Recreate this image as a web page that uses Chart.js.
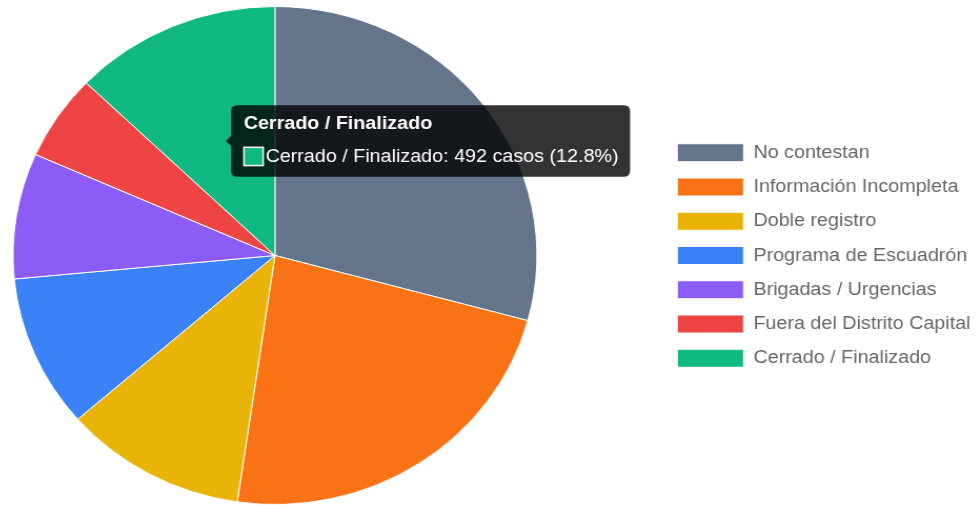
<!DOCTYPE html>
<html>
<head>
<meta charset="utf-8">
<script src="https://cdn.jsdelivr.net/npm/chart.js@4.4.0/dist/chart.umd.min.js"></script>
<style>
  html, body { margin: 0; padding: 0; background: #fff; overflow: hidden; width: 977px; height: 505px; }
  #pieChart { display: block; margin-left: -111px; }
</style>
</head>
<body>
<canvas id="pieChart" width="1038" height="505" style="width:1092px;height:505px"></canvas>
<script>
var labels = ["No contestan", "Información Incompleta", "Doble registro", "Programa de Escuadrón",
              "Brigadas / Urgencias", "Fuera del Distrito Capital", "Cerrado / Finalizado"];
var casos = [1122, 887, 433, 381, 313, 213, 492];
var colores = ["#64748b", "#f97316", "#eab308", "#3b82f6", "#8b5cf6", "#ef4444", "#10b981"];

var total = casos.reduce(function(a, b) { return a + b; }, 0);

var ctx = document.getElementById('pieChart').getContext('2d');
var myChart = new Chart(ctx, {
    type: 'pie',
    data: {
        labels: labels,
        datasets: [{
            data: casos,
            backgroundColor: colores,
            hoverBackgroundColor: colores,
            borderColor: '#fff',
            borderWidth: 1,
            hoverOffset: 0
        }]
    },
    options: {
        responsive: false,
        animation: false,
        devicePixelRatio: 1,
        layout: {
            padding: { left: 0, right: 0, top: 6, bottom: 0 }
        },
        plugins: {
            legend: {
                position: 'right',
                labels: {
                    boxWidth: 63,
                    boxHeight: 18,
                    padding: 15.5,
                    color: '#666',
                    font: { size: 18.75 }
                }
            },
            tooltip: {
                backgroundColor: 'rgba(0,0,0,0.8)',
                titleFont: { size: 18.75, weight: 'bold' },
                bodyFont: { size: 18.75 },
                padding: { top: 7, bottom: 9, left: 12, right: 11 },
                titleMarginBottom: 10.5,
                cornerRadius: 6,
                callbacks: {
                    label: function(item) {
                        var pct = (item.raw / total * 100).toFixed(1);
                        return item.label + ': ' + item.raw + ' casos (' + pct + '%)';
                    }
                }
            }
        }
    }
});

// tooltip abierto sobre "Cerrado / Finalizado"
myChart.tooltip.setActiveElements([{ datasetIndex: 0, index: 6 }], { x: 0, y: 0 });
myChart.update();
</script>
</body>
</html>
